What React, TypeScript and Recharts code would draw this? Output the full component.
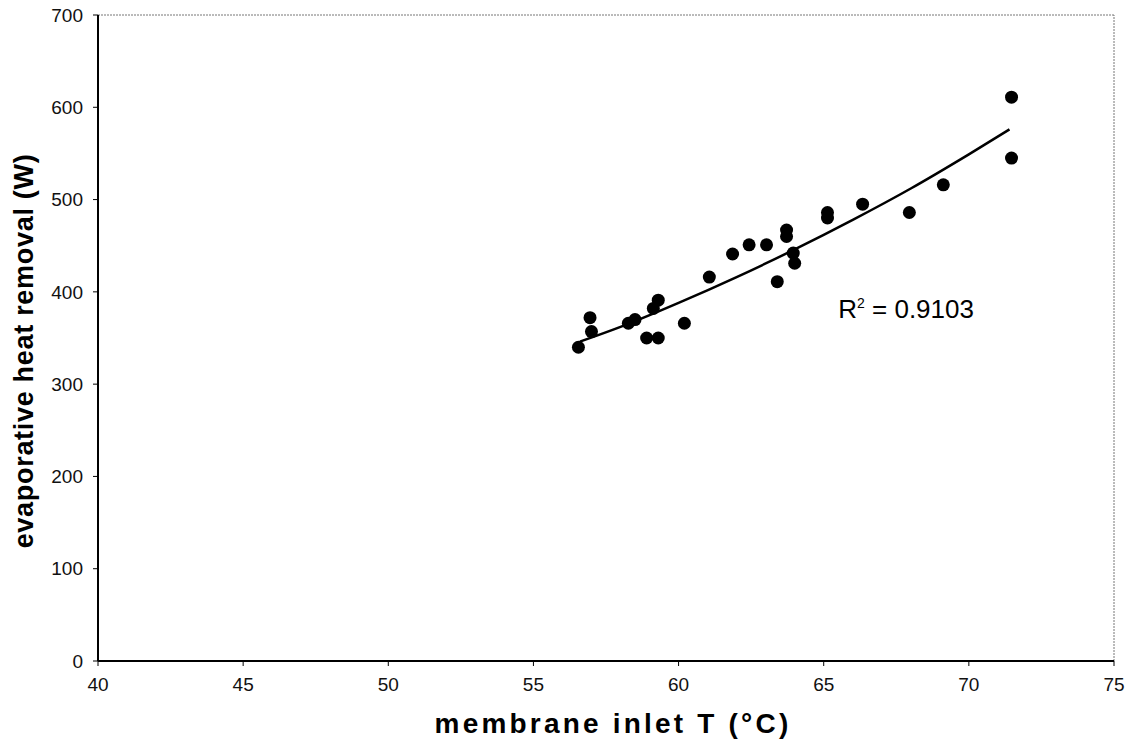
import { ReferenceDot, ReferenceLine, Scatter, ScatterChart, XAxis, YAxis } from "recharts";

// membrane inlet temperature (°C) vs evaporative heat removal (W)
const INLET_T = [
  56.55, 56.95, 57.0, 58.27, 58.5, 58.9, 59.3, 59.13, 59.3, 60.2, 61.06, 61.86, 62.43,
  63.03, 63.72, 63.72, 63.4, 63.95, 64.0, 65.13, 65.13, 66.34, 67.95, 69.12, 71.47, 71.47,
];
const HEAT_W = [
  340, 372, 357, 366, 370, 350, 350, 382, 391, 366, 416, 441, 451, 451, 460, 467, 411, 442,
  431, 480, 486, 495, 486, 516, 545, 611,
];

// trend line
const FIT_T = [56.6, 58, 60, 62, 64, 66, 68, 70, 71.4];
const FIT_W = [346, 362, 388, 416, 446, 478, 512, 549, 576];

const X_TICKS = [40, 45, 50, 55, 60, 65, 70, 75];
const Y_TICKS = [0, 100, 200, 300, 400, 500, 600, 700];

const points = INLET_T.map((t, i) => ({ x: t, y: HEAT_W[i] }));
const fit = FIT_T.map((t, i) => ({ x: t, y: FIT_W[i] }));

const FONT = "'Liberation Sans', Arial, sans-serif";
const tickStyle = { fontSize: 19, fill: "#111", fontFamily: FONT };

const Dot = (p: any) => <circle cx={p.cx} cy={p.cy} r={6.5} fill="#000" />;
const NoDot = () => <g />;

export default function App() {
  return (
    <div style={{ position: "absolute", left: 0, top: 0, width: 1134, height: 742, background: "#fff" }}>
      <ScatterChart width={1134} height={742} margin={{ top: 15, right: 20, bottom: 0, left: 0 }}>
        <XAxis
          type="number"
          dataKey="x"
          domain={[40, 75]}
          ticks={X_TICKS}
          allowDataOverflow
          height={81}
          tickSize={5}
          tickMargin={12}
          tick={tickStyle}
          axisLine={{ stroke: "#000", strokeWidth: 2 }}
          tickLine={{ stroke: "#000" }}
          label={{
            content: () => (
              <text x={613} y={733} textAnchor="middle" fontFamily={FONT} fontWeight="bold" fontSize={28} letterSpacing={3.2} fill="#000">
                membrane inlet T (°C)
              </text>
            ),
          }}
        />
        <YAxis
          type="number"
          dataKey="y"
          domain={[0, 700]}
          ticks={Y_TICKS}
          width={98}
          tickSize={5}
          tickMargin={10}
          tick={tickStyle}
          axisLine={{ stroke: "#000", strokeWidth: 2 }}
          tickLine={{ stroke: "#000" }}
          label={{
            content: () => (
              <text
                transform="translate(24,351) rotate(-90)"
                textAnchor="middle"
                dominantBaseline="central"
                fontFamily={FONT}
                fontWeight="bold"
                fontSize={27}
                letterSpacing={0.7}
                fill="#000"
              >
                evaporative heat removal (W)
              </text>
            ),
          }}
        />
        <ReferenceLine y={700} stroke="#777" strokeDasharray="2 1" />
        <ReferenceLine x={75} stroke="#777" strokeDasharray="2 1" />
        <Scatter
          data={fit}
          shape={NoDot}
          line={{ stroke: "#000", strokeWidth: 2.5 }}
          lineJointType="monotoneX"
          isAnimationActive={false}
        />
        <Scatter data={points} shape={Dot} isAnimationActive={false} />
        <ReferenceDot
          x={65.5}
          y={388}
          r={0}
          label={{
            content: (p: any) => (
              <text x={p.viewBox.x} y={p.viewBox.y + 15} fontFamily={FONT} fontSize={26} fill="#000">
                R<tspan dy={-10} fontSize={14}>2</tspan>
                <tspan dy={10}> = 0.9103</tspan>
              </text>
            ),
          }}
        />
      </ScatterChart>
    </div>
  );
}
